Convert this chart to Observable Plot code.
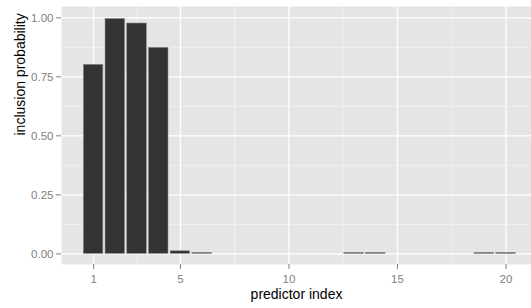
<!DOCTYPE html>
<html>
<head>
<meta charset="utf-8">
<script src="https://cdn.jsdelivr.net/npm/d3@7"></script>
<script src="https://cdn.jsdelivr.net/npm/@observablehq/plot@0.6"></script>
<style>
  html, body { margin: 0; padding: 0; background: #ffffff; }
</style>
</head>
<body>
<div id="chart"></div>
<script>
const predictorIndex = [1, 2, 3, 4, 5, 6, 7, 8, 9, 10, 11, 12, 13, 14, 15, 16, 17, 18, 19, 20];
const inclusionProb = [0.801, 0.995, 0.976, 0.873, 0.011, 0.004, 0, 0, 0, 0, 0, 0, 0.004, 0.004, 0, 0, 0, 0, 0.004, 0.004];
const xTicks = [1, 5, 10, 15, 20];
const xMinor = [3, 7.5, 12.5, 17.5];
const yTicks = [0, 0.25, 0.5, 0.75, 1];
const yMinor = [0.125, 0.375, 0.625, 0.875];
const xLabel = "predictor index";
const yLabel = "inclusion probability";

const data = predictorIndex.map((d, i) => ({idx: d, p: inclusionProb[i]})).filter(d => d.p > 0);

const chart = Plot.plot({
  width: 531,
  height: 308,
  marginLeft: 61,
  marginRight: 0,
  marginTop: 6,
  marginBottom: 44,
  style: {fontFamily: "'Liberation Sans', Arial, sans-serif", color: "#7f7f7f", background: "#ffffff"},
  x: {domain: [-0.479, 21.175]},
  y: {domain: [-0.045, 1.048]},
  marks: [
    Plot.frame({fill: "#e5e5e5", stroke: null}),
    Plot.ruleX(xMinor, {stroke: "#f2f2f2", strokeWidth: 0.9}),
    Plot.ruleY(yMinor, {stroke: "#f2f2f2", strokeWidth: 0.9}),
    Plot.ruleX(xTicks, {stroke: "#ffffff", strokeWidth: 1.3}),
    Plot.ruleY(yTicks, {stroke: "#ffffff", strokeWidth: 1.3}),
    Plot.rectY(data, {x1: d => d.idx - 0.45, x2: d => d.idx + 0.45, y1: 0, y2: "p", fill: "#333333", stroke: "#8a8a8a", strokeWidth: 0.6}),
    Plot.axisX({ticks: xTicks, tickSize: 5, tickPadding: 5, fontSize: 11.5, label: null, tickFormat: d3.format("d")}),
    Plot.axisY({ticks: yTicks, tickSize: 5, tickPadding: 3, fontSize: 11.5, label: null, tickFormat: d3.format(".2f")}),
    Plot.text([xLabel], {frameAnchor: "bottom", dy: 34.5, text: d => d, fontSize: 14, fill: "#000000"}),
    Plot.text([yLabel], {frameAnchor: "left", dx: -41, rotate: -90, text: d => d, fontSize: 14, fill: "#000000"})
  ]
});
document.getElementById("chart").appendChild(chart);
</script>
</body>
</html>
